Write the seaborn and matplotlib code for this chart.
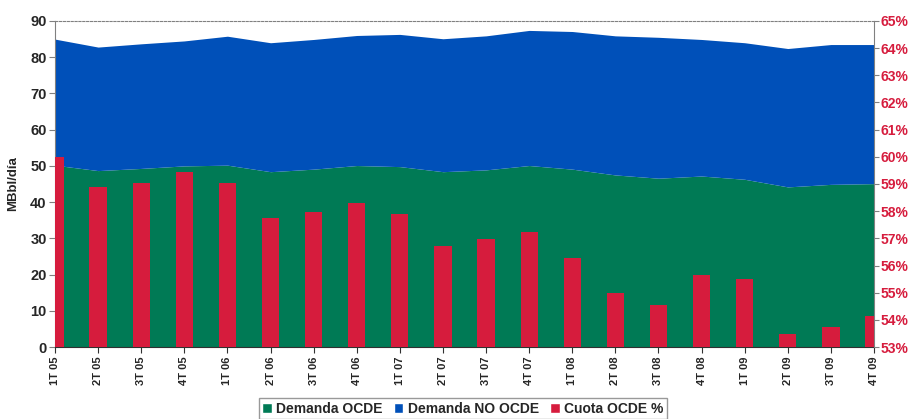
import matplotlib
matplotlib.use("Agg")
import matplotlib.pyplot as plt
from matplotlib.patches import Patch
import numpy as np
import pandas as pd
import seaborn as sns

# ---- data ----
quarters = ["1T 05", "2T 05", "3T 05", "4T 05", "1T 06", "2T 06", "3T 06", "4T 06",
            "1T 07", "2T 07", "3T 07", "4T 07", "1T 08", "2T 08", "3T 08", "4T 08",
            "1T 09", "2T 09", "3T 09", "4T 09"]
demanda_ocde = [50.2, 48.7, 49.3, 50.0, 50.2, 48.4, 49.1, 50.1, 49.8, 48.4,
                48.9, 50.1, 49.1, 47.5, 46.6, 47.2, 46.3, 44.2, 44.9, 45.1]
demanda_total = [85.0, 82.8, 83.7, 84.5, 85.8, 84.0, 84.9, 86.0, 86.3, 85.1,
                 85.9, 87.4, 87.1, 85.9, 85.5, 84.9, 84.0, 82.4, 83.5, 83.5]
demanda_no_ocde = [t - o for t, o in zip(demanda_total, demanda_ocde)]
cuota_ocde = [59.98, 58.88, 59.02, 59.43, 59.05, 57.74, 57.96, 58.29, 57.90, 56.72,
              56.96, 57.22, 56.26, 54.98, 54.55, 55.66, 55.49, 53.48, 53.74, 54.15]
left_ticks = [0, 10, 20, 30, 40, 50, 60, 70, 80, 90]
right_ticks = list(range(53, 66))

GREEN = "#007A55"
BLUE = "#0050B9"
RED = "#D61C3D"

sns.set_style("white")
plt.rcParams["font.family"] = ["Liberation Sans", "DejaVu Sans"]
plt.rcParams["font.weight"] = "bold"

fig = plt.figure(figsize=(9.09, 4.19), dpi=100)
ax1 = fig.add_axes([55 / 909, 72 / 419, 819 / 909, 326 / 419])
ax2 = ax1.twinx()

x = np.arange(len(quarters))
ax1.fill_between(x, 0, demanda_ocde, color=GREEN, linewidth=0, zorder=1)
ax1.fill_between(x, demanda_ocde, demanda_total, color=BLUE, linewidth=0, zorder=1)

df = pd.DataFrame({"q": quarters, "cuota": cuota_ocde})
sns.barplot(data=df, x="q", y="cuota", ax=ax2, color=RED, width=0.4,
            saturation=1, linewidth=0, order=quarters)

ax1.set_xlim(0, len(quarters) - 1)
ax2.set_xlim(0, len(quarters) - 1)
ax1.set_ylim(0, 90)
ax2.set_ylim(53, 65)
ax1.set_yticks(left_ticks)
ax2.set_yticks(right_ticks)
ax2.set_yticklabels([f"{v}%" for v in right_ticks], color=RED, fontsize=10, fontweight="bold")
ax1.set_yticklabels([str(v) for v in left_ticks], fontsize=10.5, fontweight="bold")
ax1.set_xticks(x)
ax1.set_xticklabels(quarters, rotation=90, fontsize=8, fontweight="bold")
ax2.set_xlabel("")
ax2.set_ylabel("")
ax1.set_xlabel("")
ax1.set_ylabel("MBbl/día", fontsize=9.5, fontweight="bold", labelpad=8)

for ax in (ax1, ax2):
    for s in ax.spines.values():
        s.set_visible(False)
ax1.spines["left"].set_visible(True)
ax1.spines["left"].set_color("#808080")
ax1.spines["bottom"].set_visible(True)
ax1.spines["bottom"].set_color("#303030")
ax1.spines["top"].set_visible(True)
ax1.spines["top"].set_color("#808080")
ax1.spines["top"].set_linestyle((0, (2, 1.5)))
ax2.spines["right"].set_visible(True)
ax2.spines["right"].set_color("#808080")

ax1.tick_params(axis="y", which="both", direction="out", length=4, width=0.8,
                color="#808080", left=True, pad=2)
ax1.tick_params(axis="x", direction="out", length=4, width=0.8, color="#303030",
                bottom=True, pad=3)
ax2.tick_params(axis="y", direction="out", length=3.5, width=0.8, color="#808080",
                right=True, pad=1.5)

handles = [Patch(facecolor=GREEN, label="Demanda OCDE"),
           Patch(facecolor=BLUE, label="Demanda NO OCDE"),
           Patch(facecolor=RED, label="Cuota OCDE %")]
leg = fig.legend(handles=handles, loc="upper center", bbox_to_anchor=(0.509, 0.066),
                 ncol=3, frameon=True, fancybox=False, edgecolor="#808080",
                 prop={"size": 10, "weight": "bold"}, handlelength=0.7,
                 handleheight=0.7, handletextpad=0.3, columnspacing=0.8,
                 borderpad=0.25)
leg.get_frame().set_linewidth(1.0)

fig.savefig("out.png", dpi=100)
